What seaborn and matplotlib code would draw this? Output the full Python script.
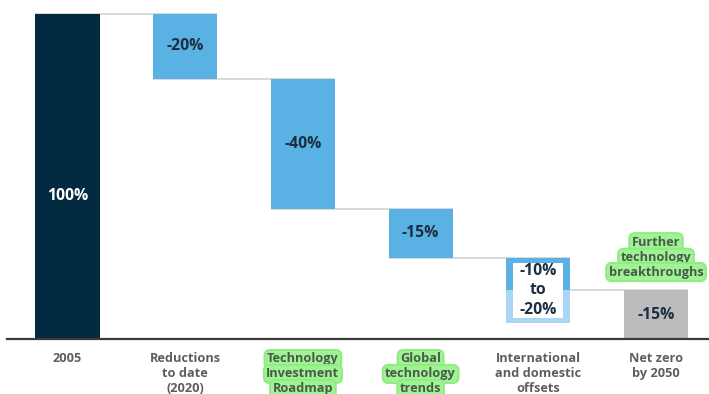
import matplotlib
matplotlib.use("Agg")
import matplotlib.pyplot as plt
from matplotlib.patches import Rectangle
import seaborn as sns
import pandas as pd

# Waterfall: path from 2005 emissions to net zero by 2050
steps = ["2005", "Reductions to date (2020)", "Technology Investment Roadmap",
         "Global technology trends", "International and domestic offsets",
         "Net zero by 2050"]
step_lines = [["2005"], ["Reductions", "to date", "(2020)"],
              ["Technology", "Investment", "Roadmap"],
              ["Global", "technology", "trends"],
              ["International", "and domestic", "offsets"],
              ["Net zero", "by 2050"]]
highlighted = [False, False, True, True, False, False]
bar_top = [100, 100, 80, 40, 25, 15]
bar_bottom = [0, 80, 40, 25, 5, 0]
offset_split = 15          # -10% end of the offsets range
value_labels = ["100%", "-20%", "-40%", "-15%", "-10%\nto\n-20%", "-15%"]
label_pos = [44, 90, 60, 32.5, 15, 7.5]
note_lines = ["Further", "technology", "breakthroughs"]

navy = "#022a40"
blue = "#5ab2e4"
pale_blue = "#aad5f3"
grey_bar = "#bcbcbd"
text_dark = "#1c2f42"
axis_text = "#5e5e5e"
hl_text = "#4a5a4a"
hl_face = "#9ff394"
hl_edge = "#8eec80"
bar_colors = [navy, blue, blue, blue, pale_blue, grey_bar]

sns.set_theme(style="white")
plt.rcParams["font.family"] = ["Open Sans", "DejaVu Sans"]

df = pd.DataFrame({"step": steps,
                   "height": [t - b for t, b in zip(bar_top, bar_bottom)]})

fig = plt.figure(figsize=(7.09, 3.94), dpi=100)
ax = fig.add_axes([7 / 709, 55 / 394, 702 / 709, 339 / 394])

sns.barplot(data=df, x="step", y="height", order=steps, hue="step",
            palette=bar_colors, legend=False, width=0.545, ax=ax,
            saturation=1, linewidth=0, zorder=3)

# Lift each bar onto its running total
bars = sorted(ax.patches, key=lambda p: p.get_x())
for p, b in zip(bars, bar_bottom):
    p.set_y(b)

# Connector lines between consecutive steps
for i in range(len(steps) - 1):
    x0 = bars[i].get_x()
    x1 = bars[i + 1].get_x() + bars[i + 1].get_width()
    if i == 0:
        level = bar_top[0]
    elif i == 4:
        x0 = bars[i].get_x() + bars[i].get_width()
        level = offset_split
    else:
        level = bar_bottom[i]
    ax.plot([x0, x1], [level, level], color="#d0d0d0", lw=1.1, zorder=1,
            solid_capstyle="butt")

# Offsets range: darker upper part plus white label panel
off = bars[4]
ax.add_patch(Rectangle((off.get_x(), offset_split), off.get_width(),
                       bar_top[4] - offset_split, facecolor=blue,
                       edgecolor="none", zorder=3.5))
ax.add_patch(Rectangle((off.get_x() + 0.06, bar_bottom[4] + 1.5),
                       off.get_width() - 0.12,
                       bar_top[4] - bar_bottom[4] - 3.0,
                       facecolor="white", edgecolor="none", zorder=4))

for i, (txt, y) in enumerate(zip(value_labels, label_pos)):
    ax.text(i, y, txt, ha="center", va="center", fontsize=11.3,
            fontweight="bold", color="white" if i == 0 else text_dark,
            linespacing=1.3, zorder=5)

hl_box = dict(boxstyle="round,pad=0.2,rounding_size=0.45",
              facecolor=hl_face, edgecolor=hl_edge, linewidth=1.4)

# Category labels, one line at a time
line_y = [-6.15, -10.75, -15.35]
for i, lines in enumerate(step_lines):
    for k, line in enumerate(lines):
        ax.text(i, line_y[k], line, ha="center", va="center", fontsize=9.2,
                fontweight="bold",
                color=hl_text if highlighted[i] else axis_text,
                bbox=hl_box if highlighted[i] else None, clip_on=False)

# Note above the final bar
for line, y in zip(note_lines, [29.8, 25.0, 20.6]):
    ax.text(5, y, line, ha="center", va="center", fontsize=9.2,
            fontweight="bold", color=hl_text, bbox=hl_box, zorder=5)

ax.set_xlim(-0.514, 5.45)
ax.set_ylim(0, 104.3)
ax.set_xticks(range(len(steps)))
ax.set_xticklabels([])
ax.set_yticks([])
ax.set_xlabel("")
ax.set_ylabel("")
ax.tick_params(axis="x", length=0)
for side in ["top", "right", "left"]:
    ax.spines[side].set_visible(False)
ax.spines["bottom"].set_color("#3a3a3a")
ax.spines["bottom"].set_linewidth(1.6)
ax.spines["bottom"].set_zorder(6)

fig.savefig("out.png", dpi=100)
